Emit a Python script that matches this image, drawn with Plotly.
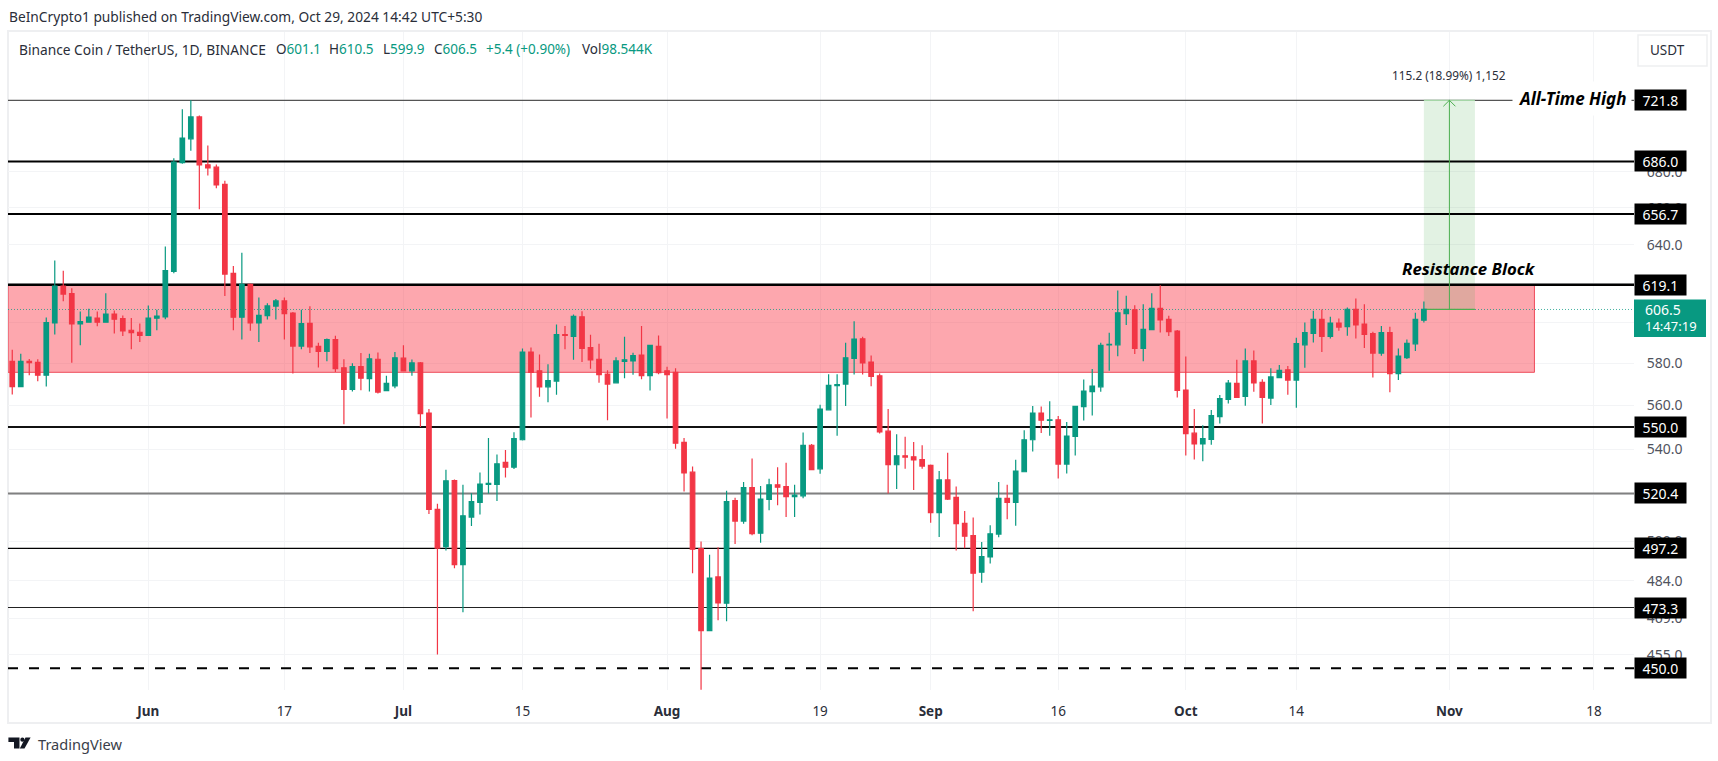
import math
import pandas as pd
import plotly.graph_objects as go

#Daily candles, May 16 to Oct 29 2024
opens = [580.9,568.8,580.9,580.4,574.2,599.7,618.4,614.6,599.3,600.1,602.2,600.1,604.2,601.9,596.1,595.1,
	593.6,602.1,602.7,626.0,685.3,699.0,711.9,684.1,682.7,673.0,625.0,602.6,619.3,599.7,603.4,608.2,610.8,604.7,588.3,599.5,588.2,585.7,591.5,577.8,567.5,578.3,572.6,581.9,566.9,569.1,
	582.4,576.3,580.1,556.4,513.6,497.9,526.0,490.5,510.3,516.6,524.4,524.4,534.0,531.9,544.2,585.4,576.3,568.7,571.4,593.9,593.0,602.8,587.6,581.9,574.8,570.6,580.8,581.1,583.9,574.0,588.2,
	576.3,575.6,543.0,529.7,497.1,464.3,485.5,475.0,517.3,508.6,523.0,503.5,517.8,524.2,523.4,519.0,519.4,541.7,531.2,557.9,569.2,570.0,582.3,591.9,580.5,573.9,548.1,533.0,537.0,536.5,535.3,
	532.7,512.2,526.3,518.7,507.6,502.5,487.4,493.6,503.1,518.3,516.5,529.9,544.2,556.4,553.0,553.3,533.3,545.7,559.4,566.4,568.7,588.9,588.9,604.4,606.3,587.2,596.4,607.1,601.5,595.7,
	567.2,547.2,542.3,544.4,554.8,562.8,570.3,564.2,581.1,570.8,563.4,573.1,576.8,571.9,588.9,594.5,601.5,593.0,599.7,597.9,606.5,599.2,594.4,584.9,594.9,575.0,582.7,589.4,601.1]
highs = [586.5,584.5,582.0,581.9,602.4,631.7,626.4,617.3,605.5,606.9,605.5,614.8,606.0,603.5,602.2,599.4,
	608.5,606.4,639.1,687.8,716.5,721.8,712.7,695.1,684.3,675.1,628.9,635.8,619.8,612.6,609.7,611.8,612.6,605.2,606.4,608.1,589.9,592.0,593.4,581.9,579.9,584.9,584.6,585.2,573.9,585.4,
	588.7,581.8,580.6,558.3,516.0,530.8,526.5,524.2,520.5,529.6,545.0,537.6,539.6,547.6,587.1,587.6,584.2,579.5,599.0,598.2,604.0,605.6,593.9,589.5,576.6,582.9,592.9,585.1,598.2,588.9,593.5,
	578.3,577.6,545.0,532.2,500.0,494.5,497.6,521.6,518.5,525.4,535.8,523.7,526.8,531.9,533.9,524.2,547.5,542.3,560.3,574.7,574.7,589.9,600.6,592.9,583.7,575.0,558.3,546.7,545.6,543.2,541.7,
	533.1,530.2,538.3,523.4,512.9,510.1,499.8,506.8,525.4,524.2,535.2,548.5,559.7,559.4,561.9,555.0,552.3,559.7,572.2,577.2,589.9,594.9,616.1,613.5,608.6,609.1,614.8,618.8,603.3,596.2,
	583.2,558.3,550.8,557.8,564.8,571.9,581.7,587.1,586.2,572.3,577.6,579.1,578.6,592.4,600.0,605.8,606.5,602.8,602.0,607.5,612.0,609.1,595.4,598.2,597.9,587.1,591.5,604.8,610.5]
lows = [565.1,568.5,574.2,571.3,568.8,594.0,610.7,580.2,588.7,600.0,598.1,600.0,594.5,593.3,586.8,590.3,
	593.5,596.1,601.6,625.1,684.7,692.1,659.2,678.0,670.8,613.3,596.1,591.5,595.8,590.3,601.4,601.4,591.5,575.0,586.7,584.9,577.9,580.9,575.8,551.2,566.5,567.1,566.5,565.5,566.8,568.0,
	576.2,574.0,550.0,511.6,455.1,496.3,489.0,471.4,506.5,511.4,520.4,517.1,527.4,531.1,543.9,554.4,564.0,561.4,565.0,586.7,581.6,580.6,577.3,570.6,553.1,570.5,572.8,574.4,572.3,566.9,574.7,
	553.9,540.1,521.3,487.0,442.0,464.0,468.3,467.9,499.0,507.5,502.6,499.5,513.2,515.3,510.3,510.3,518.3,530.7,529.0,557.8,546.0,559.7,574.5,574.5,569.0,547.0,520.4,522.3,531.2,521.9,531.2,
	507.9,501.9,517.6,496.3,497.2,471.8,483.1,490.9,501.8,509.4,506.6,529.8,538.9,547.3,546.0,526.9,529.1,537.1,553.0,555.3,566.4,576.3,583.4,598.7,584.4,580.9,596.3,595.0,593.2,563.7,
	537.1,535.3,534.5,541.9,551.6,560.9,563.6,559.8,566.4,551.6,560.1,573.0,565.0,558.9,577.8,590.0,585.4,592.0,595.9,593.4,592.0,587.4,573.1,583.6,566.1,571.9,582.0,585.9,599.9]
closes = [568.8,580.9,580.2,574.2,599.9,618.4,614.3,599.3,600.4,602.7,600.1,604.2,601.6,595.8,594.9,593.5,
	602.2,603.2,626.4,685.6,699.4,711.9,684.0,682.3,672.7,624.6,602.6,619.3,599.7,603.6,608.3,610.8,604.4,588.3,599.4,587.9,585.7,591.5,577.3,567.5,578.3,572.8,582.1,566.2,570.3,582.6,
	576.3,580.1,556.1,513.5,497.3,525.9,490.5,510.8,516.9,524.5,524.8,533.4,531.9,544.7,585.4,575.6,568.7,571.7,593.9,593.5,603.0,587.2,581.6,574.5,570.0,581.1,581.6,583.7,574.0,588.7,575.4,
	574.5,542.6,529.4,496.8,464.3,485.0,475.1,516.9,508.6,523.0,503.3,518.0,524.2,523.1,519.0,519.7,541.7,530.8,558.3,569.4,569.8,582.6,591.7,580.1,573.6,547.8,533.0,537.0,536.4,535.1,532.4,
	512.2,526.3,518.0,507.5,502.2,487.0,493.8,503.2,518.3,516.5,530.2,544.2,556.4,553.1,553.3,533.3,545.9,559.5,566.7,569.0,588.7,589.2,604.8,606.5,587.2,596.5,607.1,601.2,595.4,567.0,
	547.0,542.3,544.7,555.2,563.1,570.4,563.7,581.1,570.6,563.7,573.4,576.6,571.9,589.5,594.9,601.5,593.0,599.7,597.7,606.5,598.8,594.0,584.9,594.9,575.0,583.4,589.7,601.5,606.5]
dates = pd.date_range("2024-05-16", periods=len(closes), freq="D")

#Axis ticks, the labels hidden behind price tags are left blank
x_ticks = ["2024-06-01","2024-06-17","2024-07-01","2024-07-15","2024-08-01","2024-08-19","2024-09-01","2024-09-16","2024-10-01","2024-10-14","2024-11-01","2024-11-18"]
x_labels = ["<b>Jun</b>","17","<b>Jul</b>","15","<b>Aug</b>","19","<b>Sep</b>","16","<b>Oct</b>","14","<b>Nov</b>","18"]
y_ticks = [680,660,640,620,600,580,560,540,520,500,484,469,455]
y_labels = ["680.0","660.0","640.0","","","580.0","560.0","540.0","","500.0","484.0","469.0","455.0"]

#Drawn levels: price, line width, colour, dash
levels = [721.8, 686.0, 656.7, 619.1, 550.0, 520.4, 497.2, 473.3, 450.0]
level_widths = [1.2, 2, 2, 2.5, 2, 2, 1.2, 1.2, 2]
level_colors = ["#555555", "#000000", "#000000", "#000000", "#111111", "#808080", "#000000", "#222222", "#000000"]
level_dashes = ["solid", "solid", "solid", "solid", "solid", "solid", "solid", "solid", "10px,11px"]

last_price = 606.5
zone_low = 575.6
zone_high = 619.1
zone_end = "2024-11-11 00:00"
x_start = "2024-05-15 12:00"
x_end = "2024-11-22 17:00"

UP = "#089981"
DOWN = "#F23645"
FONT = "Noto Sans"

#Plot area in page pixels
LEFT, RIGHT, TOP, BOTTOM = 8, 1634, 32, 690

def fx(px):
	return (px - LEFT) / (RIGHT - LEFT)

def fy(py):
	return (BOTTOM - py) / (BOTTOM - TOP)

fig = go.Figure(go.Candlestick(
	x=dates, open=opens, high=highs, low=lows, close=closes,
	increasing=dict(line=dict(color=UP, width=1.2), fillcolor=UP),
	decreasing=dict(line=dict(color=DOWN, width=1.2), fillcolor=DOWN),
	whiskerwidth=0,
	hoverinfo="skip",
	))

#Resistance zone and the projection box sit over the grid and under the candles
fig.add_shape(type="rect", xref="x", x0=x_start, x1=zone_end, yref="y", y0=zone_low, y1=zone_high,
	fillcolor="rgba(250,55,70,0.44)", line=dict(color="#EE4B5A", width=1), layer="between")
fig.add_shape(type="rect", xref="x", x0="2024-10-29", x1="2024-11-04", yref="y", y0=last_price, y1=levels[0],
	fillcolor="rgba(76,175,80,0.16)", line=dict(width=0), layer="between")

for price, width, color, dash in zip(levels, level_widths, level_colors, level_dashes):
	fig.add_shape(type="line", xref="x", x0=x_start, x1=x_end, yref="y", y0=price, y1=price,
		line=dict(color=color, width=width, dash=dash), layer="between")

#Last price dotted line
fig.add_shape(type="line", xref="x", x0=x_start, x1=x_end, yref="y", y0=last_price, y1=last_price,
	line=dict(color="rgba(8,153,129,0.75)", width=1, dash="1px,2px"), layer="between")

#Measure arrow
fig.add_shape(type="line", xref="x", x0="2024-10-29", x1="2024-11-04", yref="y", y0=last_price, y1=last_price,
	line=dict(color="#4CAF50", width=1.2), layer="between")
fig.add_shape(type="line", xref="x", x0="2024-10-29", x1="2024-11-04", yref="y", y0=levels[0], y1=levels[0],
	line=dict(color="#A5D6A7", width=1.2), layer="between")
fig.add_shape(type="line", xref="x", x0="2024-11-01", x1="2024-11-01", yref="y", y0=last_price, y1=levels[0],
	line=dict(color="#4CAF50", width=1))
for side in ["2024-10-31 07:00", "2024-11-01 17:00"]:
	fig.add_shape(type="line", xref="x", x0="2024-11-01", x1=side, yref="y", y0=levels[0], y1=718.2,
		line=dict(color="#4CAF50", width=1))

#Panel outline and the USDT button
fig.add_shape(type="rect", xref="paper", yref="paper", x0=0, x1=fx(1711), y0=fy(723), y1=fy(31),
	line=dict(color="#EEEFF1", width=2), layer="below")
fig.add_shape(type="rect", xref="paper", yref="paper", x0=fx(1638), x1=fx(1707), y0=fy(66), y1=fy(35),
	line=dict(color="#EEEFF1", width=1.5), fillcolor="white")

#TradingView logo
logo_paths = [
	[(8.4,737.5),(19.5,737.5),(19.5,748.5),(14,748.5),(14,742),(8.4,742)],
	[(25.5,737.5),(30.6,737.5),(24.5,748.5),(19.8,748.5)],
	]
for pts in logo_paths:
	path = "M " + " L ".join(f"{fx(a):.5f},{fy(b):.5f}" for a, b in pts) + " Z"
	fig.add_shape(type="path", xref="paper", yref="paper", path=path, fillcolor="#131722", line=dict(width=0))
fig.add_shape(type="circle", xref="paper", yref="paper", x0=fx(20.3), x1=fx(24.5), y0=fy(741.8), y1=fy(737.6),
	fillcolor="#131722", line=dict(width=0))

def text_at(px, py, text, size=13, color="#131722", xanchor="left", pad=0, **kw):
	fig.add_annotation(xref="paper", yref="paper", x=fx(px), y=fy(py), text=text, showarrow=False,
		xanchor=xanchor, yanchor="middle", font=dict(family=FONT, size=size, color=color), borderpad=pad, **kw)

#Header and legend strip
text_at(8.4, 16.7, "BeInCrypto1 published on TradingView.com, Oct 29, 2024 14:42 UTC+5:30", size=13.75, color="#2a2e39")
text_at(18.4, 49.3, "Binance Coin / TetherUS, 1D, BINANCE", size=13.75, color="#2a2e39")
for px, key, value in [(275, "O", "601.1"), (328, "H", "610.5"), (381.6, "L", "599.9"), (432.8, "C", "606.5")]:
	text_at(px, 49.3, f"{key}<span style='color:{UP}'>{value}</span>", size=13.5, color="#2a2e39")
text_at(485.3, 49.3, "+5.4 (+0.90%)", size=13.5, color=UP)
text_at(581, 49.3, f"Vol<span style='color:{UP}'>98.544K</span>", size=13.5, color="#2a2e39")
text_at(1649, 50, "USDT", size=13.5, color="#2a2e39")
text_at(36.7, 744, "TradingView", size=14.6, color="#3a3e49")

#Drawing labels
text_at(1512, 98.3, "<b><i>All-Time High</i></b>", size=17, color="#000000", bgcolor="white", pad=5)
text_at(1401.4, 268.3, "<b><i>Resistance Block</i></b>", size=16.8, color="#000000")
text_at(1448.5, 75.3, "115.2 (18.99%) 1,152", size=11.8, color="#2a2e39", xanchor="center")

#Price tags on the axis
for price in levels:
	fig.add_annotation(xref="x domain", yref="y", x=1, y=math.log10(price), text=f"{price:.1f}",
		showarrow=False, xanchor="left", yanchor="middle", width=51, height=20, align="center", bgcolor="#000000",
		font=dict(family=FONT, size=14, color="white"), borderpad=0)
fig.add_shape(type="rect", xref="paper", yref="paper", x0=fx(1634), x1=fx(1706), y0=fy(337), y1=fy(299.5),
	fillcolor=UP, line=dict(width=0))
text_at(1644, 309.5, "606.5", size=14, color="white")
text_at(1644, 326, "14:47:19", size=13, color="white")

fig.update_layout(
	width=1718,
	height=761,
	margin=dict(l=LEFT, r=1718 - RIGHT, t=TOP, b=761 - BOTTOM),
	paper_bgcolor="white",
	plot_bgcolor="white",
	showlegend=False,
	boxgap=0.24,
	xaxis=dict(
		type="date",
		range=[x_start, x_end],
		rangeslider=dict(visible=False),
		tickmode="array", tickvals=x_ticks, ticktext=x_labels,
		ticks="outside", ticklen=9, tickcolor="rgba(0,0,0,0)",
		tickfont=dict(family=FONT, size=13.5, color="#2a2e39"),
		showgrid=True, gridcolor="#F3F4F6", zeroline=False,
		),
	yaxis=dict(
		type="log",
		side="right",
		range=[math.log10(441.9), math.log10(764)],
		tickmode="array", tickvals=y_ticks, ticktext=y_labels,
		ticks="outside", ticklen=9, tickcolor="rgba(0,0,0,0)",
		tickfont=dict(family=FONT, size=14, color="#50535E"),
		showgrid=True, gridcolor="#F3F4F6", zeroline=False,
		),
	)

fig.write_html("out.html", config={"displayModeBar": False}, post_script="document.body.style.margin='0';")
